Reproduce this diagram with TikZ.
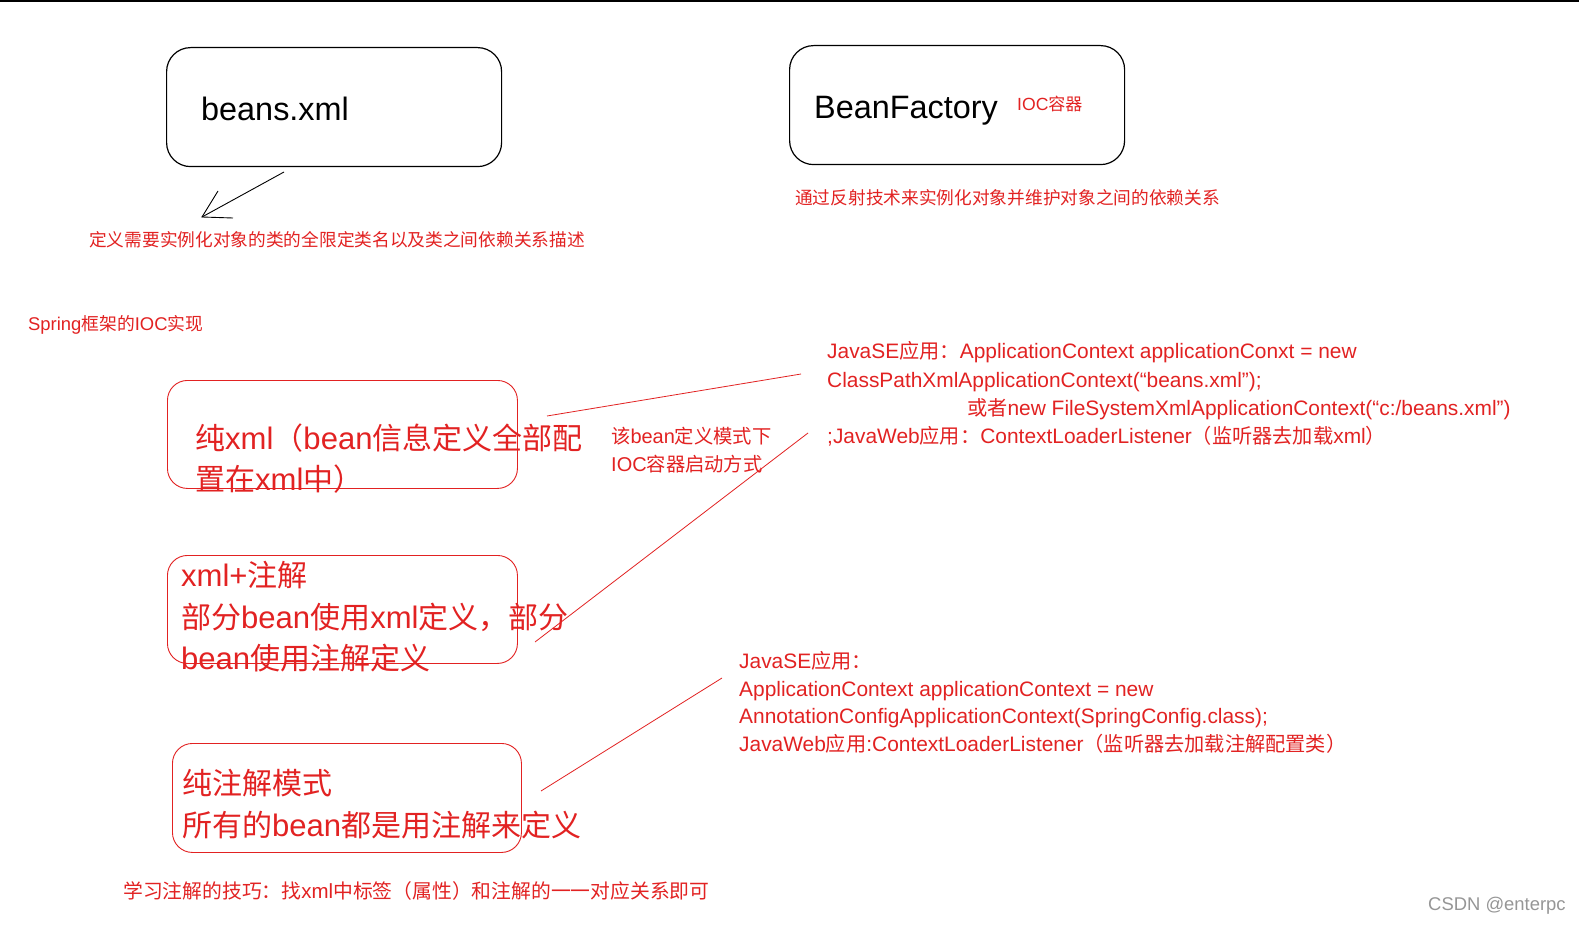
\documentclass[tikz,border=0pt]{standalone}
\usepackage{fontspec}
\setmainfont{Liberation Sans}[Scale=1.035]
\newfontfamily\cjk{Noto Sans CJK SC}
\newcommand\latinf{\normalfont}
\XeTeXinterchartokenstate=1
\newXeTeXintercharclass\CJKcls
\newcount\cjkc
\newcommand\setcjkrange[2]{\cjkc=#1\relax\loop\XeTeXcharclass\cjkc=\CJKcls\relax\ifnum\cjkc<#2\relax\advance\cjkc by 1\relax\repeat}
\setcjkrange{"4E00}{"9FFF}
\setcjkrange{"3000}{"303F}
\setcjkrange{"FF00}{"FFEF}
\XeTeXinterchartoks 0 \CJKcls = {\cjk}
\XeTeXinterchartoks 4095 \CJKcls = {\cjk}
\XeTeXinterchartoks \CJKcls 0 = {\latinf}
\XeTeXinterchartoks \CJKcls 4095 = {\latinf}
\definecolor{redc}{RGB}{226,34,34}
\definecolor{wmgray}{RGB}{150,150,150}
\tikzset{
  blackbox/.style={draw=black, line width=1.2pt, rounded corners=24pt, anchor=north west, inner sep=0pt},
  redbox/.style={draw=redc, line width=0.9pt, rounded corners=20pt, anchor=north west, inner sep=0pt},
  txt/.style={inner sep=0pt, anchor=base west},
  redtxt/.style={txt, text=redc},
  conn/.style={draw=redc, line width=0.8pt},
  fbig/.style={font=\fontsize{31.3}{38}\selectfont},
  fbox/.style={font=\fontsize{30}{36}\selectfont},
  fsmall/.style={font=\fontsize{17.7}{21}\selectfont},
  fcode/.style={font=\fontsize{20.2}{24}\selectfont},
  fmode/.style={font=\fontsize{19.3}{23}\selectfont},
}
\begin{document}
\begin{tikzpicture}[x=1pt,y=-1pt]
\useasboundingbox (0,0) rectangle (1579,925);
\fill[white] (0,0) rectangle (1579,925);
\draw[line width=1.6pt] (0,0.8) -- (1579,0.8);

% top boxes
\node[blackbox, minimum width=335pt, minimum height=119pt] (beansbox) at (166,47) {};
\node[txt, fbig] (beanstxt) at (201,121) {beans.xml};
\node[blackbox, minimum width=335pt, minimum height=119pt] (bfbox) at (789,45) {};
\node[txt, fbig] (bftxt) at (814,119) {BeanFactory};
\node[redtxt, font=\fontsize{17}{20}\selectfont] (ioc) at (1017,111) {IOC容器};
\node[redtxt, fsmall] (bfdesc) at (795,205) {通过反射技术来实例化对象并维护对象之间的依赖关系};
\node[redtxt, fsmall] (xmldesc) at (89,247) {定义需要实例化对象的类的全限定类名以及类之间依赖关系描述};

% hand-drawn arrow
\coordinate (arrS) at (284,172);
\coordinate (arrT) at (202,217);
\coordinate (arrH1) at (218,191);
\coordinate (arrH2) at (233,218);
\draw[line width=0.9pt] (arrS) -- (arrT);
\draw[line width=0.9pt] (arrH1) -- (arrT) -- (arrH2);

\node[redtxt, font=\fontsize{17.8}{21}\selectfont] (spring) at (28,330) {Spring框架的IOC实现};

% box 1
\node[redbox, minimum width=350pt, minimum height=108pt] (box1) at (167,380) {};
\node[redtxt, fbox] (b1l1) at (195,449) {纯xml（bean信息定义全部配};
\node[redtxt, fbox] (b1l2) at (195,490) {置在xml中）};

% box 2
\node[redbox, minimum width=350pt, minimum height=108pt] (box2) at (167,555) {};
\node[redtxt, fbox] (b2l1) at (181,586) {xml+注解};
\node[redtxt, fbox] (b2l2) at (181,628) {部分bean使用xml定义，部分};
\node[redtxt, fbox] (b2l3) at (181,669) {bean使用注解定义};

% box 3
\node[redbox, minimum width=349pt, minimum height=109pt] (box3) at (172,743) {};
\node[redtxt, fbox] (b3l1) at (182,794) {纯注解模式};
\node[redtxt, fbox] (b3l2) at (182,836) {所有的bean都是用注解来定义};

% mode note
\node[redtxt, fmode] (mode1) at (611,443) {该bean定义模式下};
\node[redtxt, fmode] (mode2) at (611,471) {IOC容器启动方式};

% code block 1
\node[redtxt, fcode] (c1l1) at (827,358) {JavaSE应用：ApplicationContext applicationConxt = new};
\node[redtxt, fcode] (c1l2) at (827,387) {ClassPathXmlApplicationContext(“beans.xml”);};
\node[redtxt, fcode] (c1l3) at (967,415) {或者new FileSystemXmlApplicationContext(“c:/beans.xml”)};
\node[redtxt, fcode] (c1l4) at (827,443) {;JavaWeb应用：ContextLoaderListener（监听器去加载xml）};

% code block 2
\node[redtxt, fcode] (c2l1) at (739,668) {JavaSE应用：};
\node[redtxt, fcode] (c2l2) at (739,696) {ApplicationContext applicationContext = new};
\node[redtxt, fcode] (c2l3) at (739,723) {AnnotationConfigApplicationContext(SpringConfig.class);};
\node[redtxt, fcode] (c2l4) at (739,751) {JavaWeb应用:ContextLoaderListener（监听器去加载注解配置类）};

% connectors
\coordinate (k1a) at (547,416);
\coordinate (k1b) at (801,374);
\coordinate (k2a) at (535,642);
\coordinate (k2b) at (808,433);
\coordinate (k3a) at (541,791);
\coordinate (k3b) at (722,678);
\draw[conn] (k1a) -- (k1b);
\draw[conn] (k2a) -- (k2b);
\draw[conn] (k3a) -- (k3b);

\node[redtxt, font=\fontsize{19.8}{24}\selectfont] (tip) at (123,898) {学习注解的技巧：找xml中标签（属性）和注解的一一对应关系即可};

\node[txt, text=wmgray, font=\fontsize{17.8}{22}\selectfont] (wm) at (1428,910) {CSDN @enterpc};
\end{tikzpicture}
\end{document}
